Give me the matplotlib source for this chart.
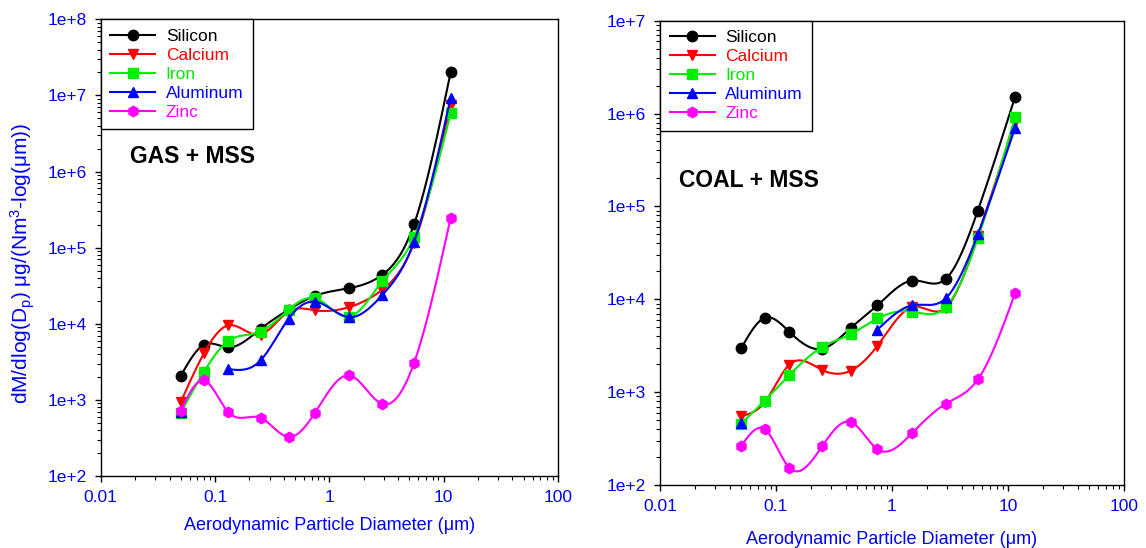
import numpy as np
import matplotlib
matplotlib.use("Agg")
import matplotlib.pyplot as plt
from matplotlib.ticker import FixedLocator, FuncFormatter, LogLocator, NullFormatter
from matplotlib.lines import Line2D

plt.rcParams['font.family'] = ['Liberation Sans', 'DejaVu Sans']
plt.rcParams['mathtext.default'] = 'regular'

# particle cut diameters (um)
diam = [0.05, 0.08, 0.13, 0.25, 0.44, 0.75, 1.5, 2.9, 5.5, 11.5]

# GAS + MSS
gas_silicon = [2060, 5300, 4900, 8550, 15300, 23300, 29400, 43900, 202000, 2.0e7]
gas_calcium = [930, 4100, 9500, 7200, 14500, 15000, 16600, 27900, 115000, 7.5e6]
gas_iron = [680, 2340, 5900, 7900, 15300, 21600, 12400, 36300, 136000, 5.8e6]
gas_aluminum = [690, np.nan, 2540, 3300, 11700, 19500, 12200, 23800, 119000, 9.3e6]
gas_zinc = [718, 1800, 695, 580, 325, 680, 2100, 885, 3040, 2.45e5]

# COAL + MSS
coal_silicon = [2950, 6300, 4470, 2930, 4900, 8600, 15900, 16500, 90300, 1.51e6]
coal_calcium = [550, 780, 1970, 1730, 1700, 3160, 8260, 8050, 48500, 8.2e5]
coal_iron = [457, 810, 1520, 3060, 4210, 6210, 7380, 8200, 45300, 9.1e5]
coal_aluminum = [460, np.nan, np.nan, np.nan, np.nan, 4710, 8620, 10200, 50200, 7.0e5]
coal_zinc = [261, 398, 154, 261, 477, 243, 365, 748, 1370, 11600]

names = ['Silicon', 'Calcium', 'Iron', 'Aluminum', 'Zinc']
colors = ['#000000', '#ff0000', '#00ee00', '#0000ff', '#ff00ff']
markers = ['o', 'v', 's', '^', 'h']
blue = '#0000ff'


def natural_spline(x, y, n=60):
    # natural cubic spline through the points, in log-log space
    x = np.asarray(x, float)
    y = np.asarray(y, float)
    k = len(x)
    if k < 3:
        t = np.linspace(x[0], x[-1], n)
        return t, np.interp(t, x, y)
    h = np.diff(x)
    A = np.zeros((k, k))
    b = np.zeros(k)
    A[0, 0] = A[-1, -1] = 1
    for i in range(1, k - 1):
        A[i, i - 1] = h[i - 1]
        A[i, i] = 2 * (h[i - 1] + h[i])
        A[i, i + 1] = h[i]
        b[i] = 6 * ((y[i + 1] - y[i]) / h[i] - (y[i] - y[i - 1]) / h[i - 1])
    M = np.linalg.solve(A, b)
    xs, ys = [], []
    for i in range(k - 1):
        t = np.linspace(x[i], x[i + 1], n)
        a = (x[i + 1] - t) / h[i]
        c = (t - x[i]) / h[i]
        s = (a * y[i] + c * y[i + 1]
             + ((a ** 3 - a) * M[i] + (c ** 3 - c) * M[i + 1]) * h[i] ** 2 / 6)
        xs.append(t)
        ys.append(s)
    return np.concatenate(xs), np.concatenate(ys)


def draw_series(ax, vals, color, marker):
    lx = np.log10(diam)
    ly = np.log10(np.array(vals, float))
    ok = ~np.isnan(ly)
    # split into contiguous runs
    runs, cur = [], []
    for i in range(len(lx)):
        if ok[i]:
            cur.append(i)
        elif cur:
            runs.append(cur)
            cur = []
    if cur:
        runs.append(cur)
    for r in runs:
        if len(r) > 1:
            sx, sy = natural_spline(lx[r], ly[r])
            ax.plot(10 ** sx, 10 ** sy, color=color, lw=1.5)
    ax.plot(np.array(diam)[ok], np.array(vals, float)[ok], ls='none',
            marker=marker, ms=7.5, color=color, mec=color)


def setup(ax, ymax_exp, label, lx, ly, xpad):
    ax.set_xscale('log')
    ax.set_yscale('log')
    ax.set_xlim(0.01, 100)
    ax.set_ylim(1e2, 10 ** ymax_exp)
    ax.xaxis.set_major_locator(FixedLocator([0.01, 0.1, 1, 10, 100]))
    ax.xaxis.set_major_formatter(FuncFormatter(lambda v, p: '%g' % v))
    ax.yaxis.set_major_locator(FixedLocator([10 ** e for e in range(2, ymax_exp + 1)]))
    ax.yaxis.set_major_formatter(FuncFormatter(lambda v, p: '1e+%d' % round(np.log10(v))))
    ax.xaxis.set_minor_locator(LogLocator(base=10, subs=np.arange(2, 10), numticks=20))
    ax.yaxis.set_minor_locator(LogLocator(base=10, subs=np.arange(2, 10), numticks=20))
    ax.xaxis.set_minor_formatter(NullFormatter())
    ax.yaxis.set_minor_formatter(NullFormatter())
    ax.tick_params(which='major', direction='out', length=4, width=1,
                   labelsize=12.5, labelcolor=blue, pad=6)
    ax.tick_params(which='minor', direction='out', length=3, width=0.8)
    for s in ax.spines.values():
        s.set_linewidth(1.0)
    ax.set_xlabel('Aerodynamic Particle Diameter (μm)', fontsize=13, color=blue, labelpad=xpad)
    ax.text(lx, ly, label, transform=ax.transAxes, fontsize=16.5, fontweight='bold',
            ha='left', va='center')
    handles = [Line2D([], [], color=c, marker=m, ms=7.5, lw=1.5) for c, m in zip(colors, markers)]
    leg = ax.legend(handles, names, loc='upper left', borderaxespad=0, fancybox=False,
                    framealpha=1, edgecolor='black', fontsize=12.5, handlelength=2.6,
                    handletextpad=0.6, labelspacing=0.22, borderpad=0.55)
    leg.get_frame().set_linewidth(1.0)
    for t, c in zip(leg.get_texts(), colors):
        t.set_color(c)


fig = plt.figure(figsize=(11.46, 5.48), dpi=100)
ax1 = fig.add_axes([0.0879, 0.1314, 0.399, 0.8334])
ax2 = fig.add_axes([0.5759, 0.115, 0.4049, 0.8473])

for vals, c, m in zip([gas_silicon, gas_calcium, gas_iron, gas_aluminum, gas_zinc], colors, markers):
    draw_series(ax1, vals, c, m)
for vals, c, m in zip([coal_silicon, coal_calcium, coal_iron, coal_aluminum, coal_zinc], colors, markers):
    draw_series(ax2, vals, c, m)

setup(ax1, 8, 'GAS + MSS', 0.065, 0.7, 9)
setup(ax2, 7, 'COAL + MSS', 0.04, 0.655, 12)
ax1.set_ylabel('dM/dlog(D$_p$) μg/(Nm$^3$-log(μm))', fontsize=15, color=blue)
ax1.yaxis.set_label_coords(-0.14, 0.466)

fig.savefig('out.png', dpi=100)
